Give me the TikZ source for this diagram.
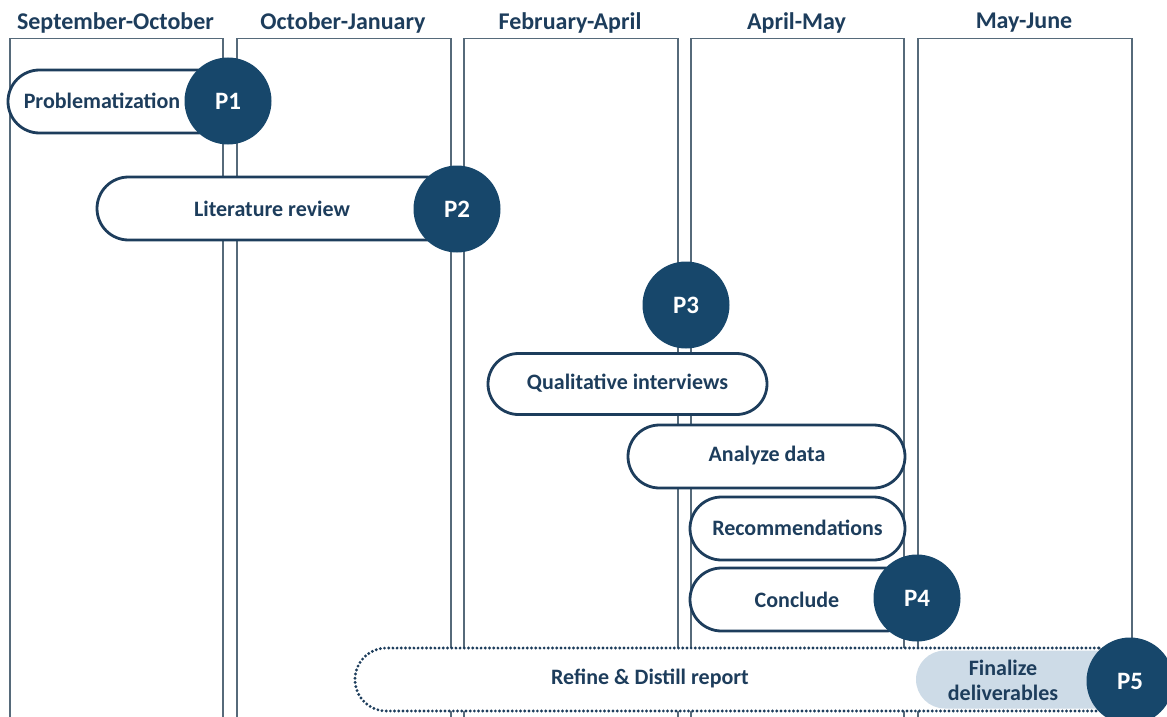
\documentclass[tikz,border=0pt]{standalone}
\usepackage{fontspec}
\setmainfont{Carlito}
\definecolor{navy}{HTML}{1D3D5C}
\definecolor{milestone}{HTML}{17476B}
\definecolor{colline}{HTML}{566A7A}
\definecolor{softblue}{HTML}{CDDBE7}
\begin{document}
\begin{tikzpicture}[x=1pt,y=-1pt,
  colbox/.style={draw=colline, line width=1.5pt, rectangle, inner sep=0pt,
    minimum height=720pt, anchor=north west},
  header/.style={text=navy, font=\fontsize{24}{28}\selectfont\bfseries},
  pill/.style={draw=navy, line width=2.8pt, fill=white, rectangle, inner sep=0pt,
    minimum height=63pt, rounded corners=31.5pt},
  dotpill/.style={pill, draw=navy, line width=3.2pt, dash pattern=on 0pt off 4.2pt, line cap=round},
  softpill/.style={draw=none, fill=softblue, rectangle, inner sep=0pt,
    minimum height=58pt, rounded corners=29pt},
  task/.style={text=navy, font=\fontsize{22}{25}\selectfont\bfseries, align=center},
  mstone/.style={circle, fill=milestone, draw=none, minimum size=87pt, inner sep=0pt,
    text=white, font=\fontsize{25}{28}\selectfont\bfseries}]
\useasboundingbox (0,0) rectangle (1167,717);
\begin{scope}
\clip (0,0) rectangle (1167,717);
% period columns
\node[colbox, minimum width=213pt] (c1) at (9,38) {};
\node[colbox, minimum width=214pt] (c2) at (236,38) {};
\node[colbox, minimum width=214pt] (c3) at (463,38) {};
\node[colbox, minimum width=213pt] (c4) at (690,38) {};
\node[colbox, minimum width=214pt] (c5) at (917,38) {};
% period headings
\node[header] (h1) at (115.5,23) {September-October};
\node[header] (h2) at (343,23) {October-January};
\node[header] (h3) at (570,23) {February-April};
\node[header] (h4) at (796.5,23) {April-May};
\node[header] (h5) at (1024,23) {May-June};
% tasks
\node[pill, minimum width=220pt] (k1) at (118,101.5) {};
\node[task] (t1) at (102,101) {Problematization};
\node[pill, minimum width=360pt] (k2) at (277,208.5) {};
\node[task] (t2) at (272,209) {Literature review};
\node[pill, minimum width=279pt, minimum height=61pt, rounded corners=30.5pt] (k3) at (627.5,384) {};
\node[task] (t3) at (627.5,383) {Qualitative interviews};
\node[pill, minimum width=277pt] (k4) at (766.5,456.5) {};
\node[task] (t4) at (767,456) {Analyze data};
\node[pill, minimum width=215pt] (k5) at (797.5,528.5) {};
\node[task] (t5) at (797.5,528) {Recommendations};
\node[pill, minimum width=227pt] (k6) at (803.5,599.5) {};
\node[task] (t6) at (797,600) {Conclude};
% final reporting phase
\node[pill, draw=none, minimum width=775pt] (k7) at (742.5,679.5) {};
\node[softpill, minimum width=214pt] (k8) at (1023,679.5) {};
\node[dotpill, fill=none, minimum width=775pt] (k7b) at (742.5,679.5) {};
\node[task] (t7) at (650,678) {Refine \& Distill report};
\node[task] (t8) at (1003,680) {Finalize\\deliverables};
% milestones
\node[mstone] (p1) at (228,101) {P1};
\node[mstone] (p2) at (457,209) {P2};
\node[mstone] (p3) at (686,305) {P3};
\node[mstone] (p4) at (917,598) {P4};
\node[mstone] (p5) at (1130,681) {P5};
\end{scope}
\end{tikzpicture}
\end{document}
